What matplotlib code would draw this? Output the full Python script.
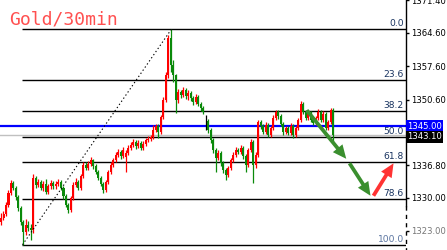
"""
Gold 30min candlestick chart with a Fibonacci retracement and projected path.

Writes out.png (447x250).
"""
import matplotlib
matplotlib.use("Agg")
import matplotlib.pyplot as plt
from matplotlib.patches import FancyArrowPatch
from matplotlib.transforms import blended_transform_factory

# 30 minute bars, oldest first
opens = [
    1324.9, 1325.7, 1326.6, 1328.5, 1331.0, 1333.1, 1332.0, 1330.1, 1327.8, 1324.9,
    1322.8, 1324.3, 1323.6, 1323.2, 1334.1, 1332.7, 1333.3, 1332.0, 1332.9, 1331.2,
    1332.4, 1333.1, 1332.4, 1332.9, 1333.3, 1332.0, 1330.3, 1328.5, 1327.4, 1329.9,
    1332.7, 1333.3, 1332.0, 1334.5, 1336.9, 1336.2, 1337.1, 1337.9, 1336.6, 1335.4,
    1334.1, 1332.9, 1331.6, 1333.3, 1335.4, 1336.9, 1337.9, 1339.0, 1339.6, 1338.7,
    1338.6, 1339.4, 1340.4, 1341.1, 1341.7, 1340.8, 1341.5, 1340.4, 1341.3, 1342.1,
    1342.3, 1342.7, 1344.2, 1345.0, 1343.8, 1346.9, 1350.5, 1355.8, 1363.5, 1357.9,
    1355.8, 1350.5, 1352.2, 1351.6, 1352.6, 1351.3, 1352.0, 1350.9, 1350.1, 1351.1,
    1349.7, 1348.8, 1346.0, 1346.0, 1344.2, 1342.1, 1340.0, 1338.3, 1339.4, 1337.3,
    1335.8, 1334.8, 1336.2, 1337.9, 1339.0, 1340.0, 1339.6, 1340.4, 1338.7, 1336.9,
    1340.0, 1341.7, 1336.9, 1339.0, 1345.9, 1345.0, 1343.8, 1345.3, 1343.2, 1344.6,
    1346.7, 1348.0, 1347.1, 1345.5, 1343.8, 1344.6, 1343.6, 1345.0, 1343.2, 1344.6,
    1346.3, 1349.7, 1348.0, 1346.7, 1347.8, 1346.3, 1345.7, 1346.7, 1348.0, 1346.3,
    1347.6, 1344.6, 1345.9, 1348.4,
]
highs = [
    1326.8, 1327.1, 1329.0, 1331.6, 1333.6, 1333.5, 1332.4, 1330.5, 1328.2, 1325.3,
    1325.5, 1325.0, 1324.4, 1334.9, 1334.6, 1334.0, 1333.8, 1333.5, 1333.9, 1332.9,
    1333.6, 1333.5, 1333.4, 1333.9, 1333.7, 1332.4, 1330.7, 1328.9, 1330.3, 1333.2,
    1334.1, 1333.7, 1335.0, 1337.5, 1337.4, 1337.6, 1338.5, 1338.2, 1337.0, 1335.8,
    1334.5, 1333.3, 1333.8, 1335.9, 1337.4, 1338.4, 1339.6, 1340.3, 1340.0, 1340.6,
    1340.0, 1341.0, 1341.6, 1342.4, 1342.1, 1342.0, 1341.9, 1341.8, 1342.6, 1342.9,
    1343.2, 1345.2, 1345.5, 1345.4, 1347.4, 1351.1, 1356.4, 1364.2, 1365.4, 1358.9,
    1356.0, 1352.9, 1352.7, 1353.2, 1353.0, 1352.6, 1352.3, 1351.4, 1351.8, 1351.5,
    1350.1, 1349.3, 1347.4, 1346.6, 1344.6, 1342.5, 1340.4, 1340.0, 1339.8, 1337.7,
    1336.2, 1336.7, 1338.4, 1339.5, 1340.6, 1340.5, 1341.0, 1340.8, 1339.1, 1340.5,
    1342.3, 1342.0, 1339.5, 1346.4, 1346.3, 1345.4, 1345.9, 1345.6, 1345.1, 1347.3,
    1348.5, 1348.4, 1347.5, 1345.9, 1345.1, 1345.0, 1345.6, 1345.4, 1345.1, 1346.8,
    1350.3, 1350.0, 1348.4, 1348.4, 1348.2, 1346.8, 1347.2, 1348.6, 1348.4, 1348.2,
    1348.0, 1346.3, 1348.9, 1348.9,
]
lows = [
    1324.3, 1325.2, 1326.2, 1328.1, 1330.6, 1331.5, 1329.6, 1327.2, 1324.3, 1320.1,
    1322.2, 1322.9, 1321.1, 1322.6, 1332.1, 1332.2, 1331.5, 1331.4, 1330.8, 1330.7,
    1331.9, 1331.9, 1331.9, 1332.5, 1331.5, 1329.8, 1328.0, 1326.8, 1327.0, 1329.5,
    1332.3, 1331.5, 1331.6, 1334.1, 1335.7, 1335.8, 1336.7, 1336.1, 1334.9, 1333.6,
    1332.4, 1331.0, 1331.2, 1332.9, 1335.0, 1336.5, 1337.5, 1338.6, 1338.2, 1338.3,
    1335.4, 1339.0, 1340.0, 1340.7, 1340.3, 1340.4, 1339.9, 1340.0, 1340.9, 1341.6,
    1341.9, 1342.3, 1343.8, 1342.6, 1343.3, 1346.5, 1350.0, 1355.2, 1356.4, 1354.3,
    1347.8, 1349.9, 1350.9, 1351.1, 1350.8, 1350.6, 1350.3, 1349.5, 1349.7, 1349.2,
    1348.2, 1347.5, 1344.2, 1343.6, 1341.5, 1339.4, 1335.4, 1337.8, 1336.7, 1335.2,
    1333.7, 1334.4, 1335.8, 1337.5, 1338.6, 1339.1, 1339.1, 1338.2, 1335.3, 1336.5,
    1339.6, 1333.1, 1336.2, 1338.6, 1344.5, 1343.3, 1343.4, 1342.7, 1342.8, 1344.2,
    1346.3, 1346.6, 1345.0, 1343.2, 1343.3, 1343.1, 1343.2, 1342.5, 1342.8, 1344.2,
    1345.9, 1347.5, 1346.2, 1346.3, 1345.8, 1345.2, 1345.3, 1346.3, 1345.8, 1345.9,
    1344.1, 1344.2, 1345.5, 1341.7,
]
closes = [
    1325.7, 1326.6, 1328.5, 1331.0, 1333.1, 1332.0, 1330.1, 1327.8, 1324.9, 1322.8,
    1324.3, 1323.6, 1323.2, 1334.1, 1332.7, 1333.3, 1332.0, 1332.9, 1331.2, 1332.4,
    1333.1, 1332.4, 1332.9, 1333.3, 1332.0, 1330.3, 1328.5, 1327.4, 1329.9, 1332.7,
    1333.3, 1332.0, 1334.5, 1336.9, 1336.2, 1337.1, 1337.9, 1336.6, 1335.4, 1334.1,
    1332.9, 1331.6, 1333.3, 1335.4, 1336.9, 1337.9, 1339.0, 1339.6, 1338.7, 1340.0,
    1339.4, 1340.4, 1341.1, 1341.7, 1340.8, 1341.5, 1340.4, 1341.3, 1342.1, 1342.3,
    1342.7, 1344.2, 1345.0, 1343.8, 1346.9, 1350.5, 1355.8, 1363.5, 1357.9, 1355.8,
    1350.5, 1352.2, 1351.6, 1352.6, 1351.3, 1352.0, 1350.9, 1350.1, 1351.1, 1349.7,
    1348.8, 1348.0, 1346.0, 1344.2, 1342.1, 1340.0, 1338.3, 1339.4, 1337.3, 1335.8,
    1334.8, 1336.2, 1337.9, 1339.0, 1340.0, 1339.6, 1340.4, 1338.7, 1336.9, 1340.0,
    1341.7, 1336.9, 1339.0, 1345.9, 1345.0, 1343.8, 1345.3, 1343.2, 1344.6, 1346.7,
    1348.0, 1347.1, 1345.5, 1343.8, 1344.6, 1343.6, 1345.0, 1343.2, 1344.6, 1346.3,
    1349.7, 1348.0, 1346.7, 1347.8, 1346.3, 1345.7, 1346.7, 1348.0, 1346.3, 1347.6,
    1344.6, 1345.9, 1348.4, 1343.1,
]

fib_levels = [0.0, 23.6, 38.2, 50.0, 61.8, 78.6, 100.0]
price_ticks = [1371.40, 1364.60, 1357.60, 1350.60, 1336.80, 1330.00, 1323.00]
marked_price = 1345.00
bid_price = 1343.10

# projected path (bar index, price)
down_x = [121.6, 138.8, 148.4]
down_y = [1348.8, 1337.7, 1329.9]
up_x = [148.4, 157.6]
up_y = [1329.9, 1337.7]

UP = "#ff0000"
DOWN = "#0a8a0a"
FIB_TEXT = "#17325f"


def draw_candles(ax):
    xs = list(range(len(closes)))
    colors = []
    for o, c in zip(opens, closes):
        if c > o:
            colors.append(UP)
        elif c < o:
            colors.append(DOWN)
        else:
            colors.append("black")
    ax.vlines(xs, lows, highs, colors=colors, linewidth=0.9, zorder=3)
    bottoms = [min(o, c) for o, c in zip(opens, closes)]
    heights = [max(abs(c - o), 0.1) for o, c in zip(opens, closes)]
    ax.bar(xs, heights, bottom=bottoms, width=0.8, color=colors, linewidth=0, zorder=3)


def draw_fibonacci(ax, x_right):
    hi = max(highs)
    lo = min(lows)
    i_hi = highs.index(hi)
    i_lo = lows.index(lo)
    x_left = i_lo - 0.5
    ax.plot([i_lo - 0.4, i_hi + 0.2], [lo, hi], color="black", lw=0.8,
            linestyle=(0, (1.2, 2.2)), zorder=4)
    for level in fib_levels:
        price = hi - (hi - lo) * level / 100.0
        ax.hlines(price, x_left, x_right, color="black", lw=1.0, zorder=2)
        ax.text(x_right - 0.8, price + 0.2, f"{level:.1f}", ha="right", va="bottom",
                fontsize=6.6, color="#5a74a0" if level == 100.0 else FIB_TEXT, zorder=5)


def draw_arrow(ax, start, end, color):
    arrow = FancyArrowPatch(
        start, end,
        arrowstyle="simple,head_length=1.15,head_width=1.05,tail_width=0.32",
        mutation_scale=8.5, color=color, linewidth=0, zorder=6,
    )
    ax.add_patch(arrow)


def main():
    fig = plt.figure(figsize=(4.47, 2.5), dpi=100)
    ax = fig.add_axes([0, 0, 406 / 447, 1])
    x_right = 162.0
    ax.set_xlim(-0.4, x_right)
    ax.set_ylim(1319.0, 1371.5)

    for side in ("top", "bottom", "left", "right"):
        ax.spines[side].set_visible(False)
    ax.set_xticks([])
    ax.yaxis.tick_right()
    ax.set_yticks(price_ticks)
    ax.set_yticklabels([f"{p:.2f}" for p in price_ticks])
    ax.tick_params(axis="y", direction="out", length=2.5, width=1, pad=1.2,
                   labelsize=6.1, colors="black")
    ax.get_yticklabels()[-1].set_color("#777777")

    # right axis line, broken lower down like the original
    edge = blended_transform_factory(ax.transAxes, ax.transData)
    ax.plot([1, 1], [1371.5, 1328.2], color="black", lw=1.0, transform=edge,
            clip_on=False, zorder=7)
    ax.plot([1, 1], [1328.2, 1319.0], color="black", lw=1.0, linestyle=(0, (3, 3)),
            transform=edge, clip_on=False, zorder=7)

    ax.axhline(bid_price, color="#c0c0c0", lw=1.0, zorder=1)
    ax.axhline(marked_price, color="#0000ff", lw=1.6, zorder=2)

    draw_fibonacci(ax, x_right)
    draw_candles(ax)

    draw_arrow(ax, (down_x[0], down_y[0]), (down_x[1], down_y[1]), "#3a8f2e")
    draw_arrow(ax, (down_x[1], down_y[1]), (down_x[2], down_y[2]), "#3a8f2e")
    draw_arrow(ax, (up_x[0], up_y[0]), (up_x[1], up_y[1]), "#ff3333")

    ax.text(1.003, marked_price, f"{marked_price:.2f}", transform=edge, ha="left",
            va="center", fontsize=6.1, color="white", zorder=8, clip_on=False,
            bbox=dict(boxstyle="square,pad=0.15", fc="#0000ff", ec="none"))
    ax.text(1.003, bid_price - 0.35, f"{bid_price:.2f}", transform=edge, ha="left",
            va="center", fontsize=6.1, color="white", zorder=8, clip_on=False,
            bbox=dict(boxstyle="square,pad=0.15", fc="black", ec="none"))

    fig.text(9 / 447, 1 - 25 / 250, "Gold/30min", ha="left", va="baseline",
             fontsize=13, family="DejaVu Sans Mono", color="#ff5050")

    fig.savefig("out.png", dpi=100)
    plt.close(fig)


if __name__ == "__main__":
    main()
